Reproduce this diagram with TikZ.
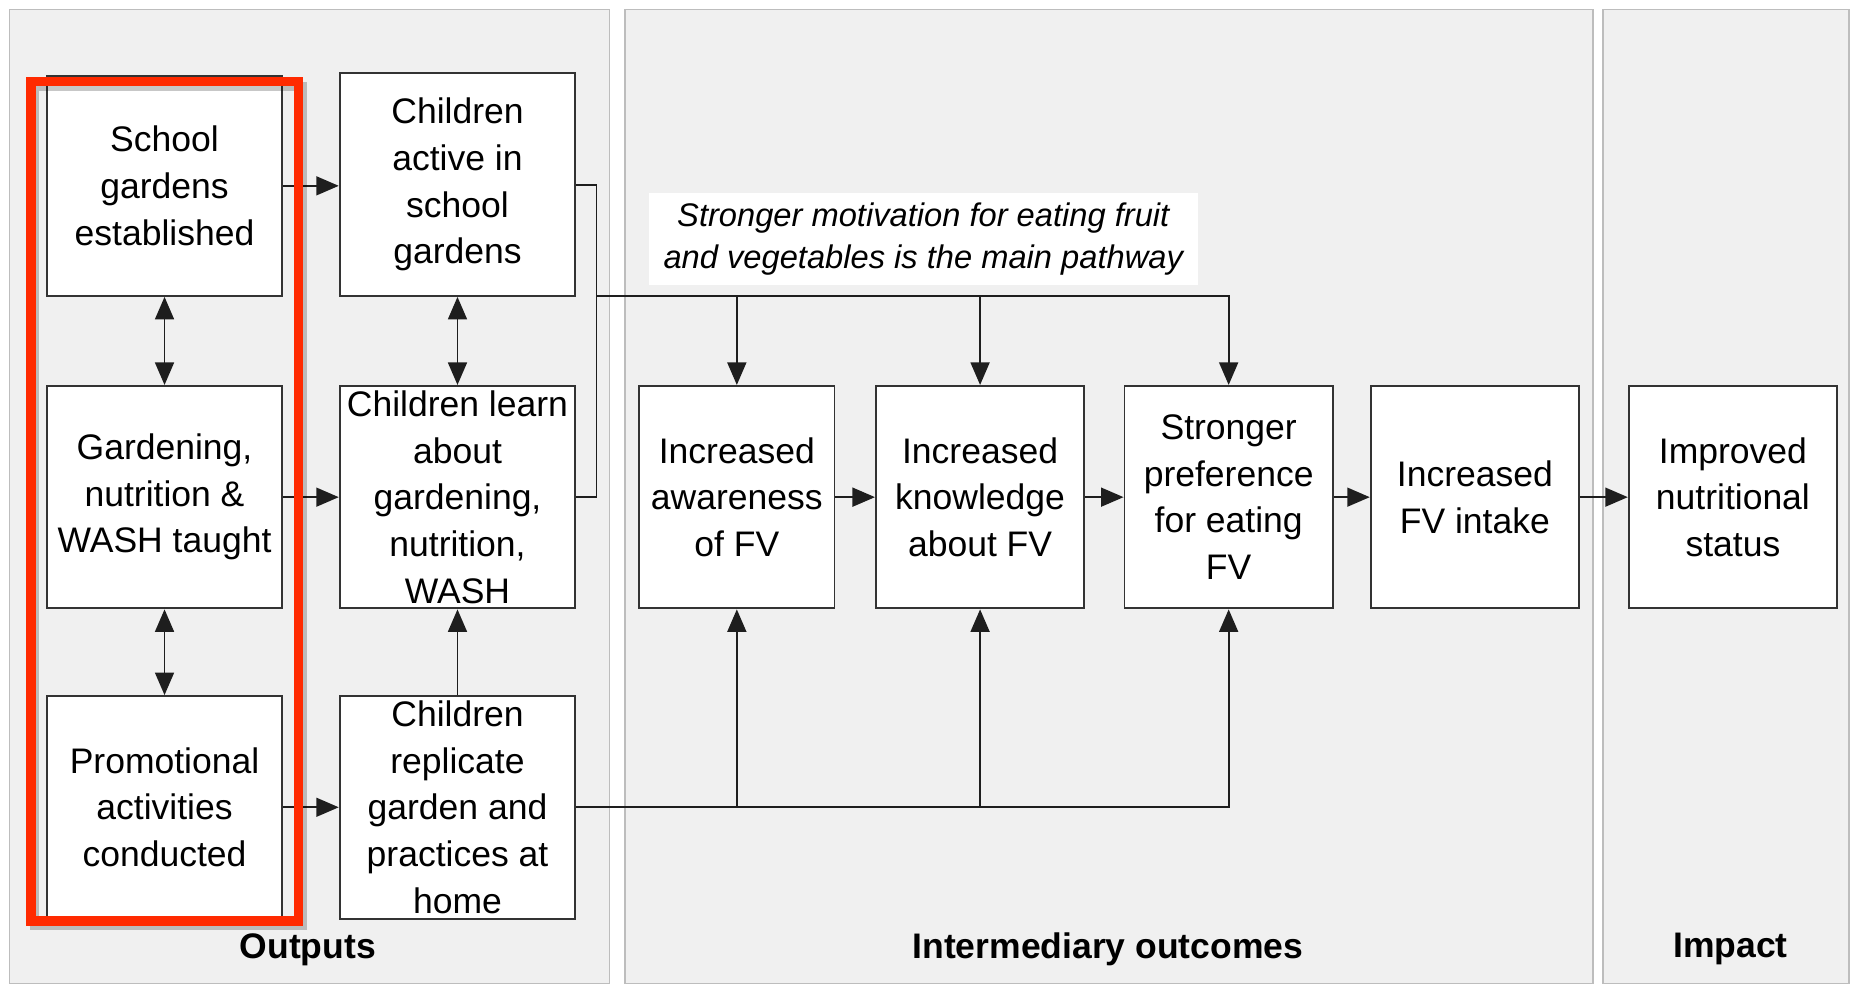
\documentclass[tikz,border=0pt]{standalone}
\usepackage{fontspec}
\setmainfont{Liberation Sans}
\usetikzlibrary{arrows.meta}
\definecolor{panelgray}{HTML}{F0F0F0}
\definecolor{panelborder}{HTML}{BDBDBD}
\definecolor{boxline}{HTML}{333333}
\definecolor{lineblack}{HTML}{1E1E1E}
\definecolor{redframe}{HTML}{FF2A00}
\newcommand\boxfont{\fontsize{15}{19.7}\selectfont}
\newcommand\labfont{\fontsize{15}{18}\selectfont\bfseries}
\newcommand\capfont{\fontsize{13.8}{17.5}\selectfont\itshape}
\begin{document}
\begin{tikzpicture}[x=0.5pt,y=-0.5pt,
  panel/.style={fill=panelgray,draw=panelborder,line width=0.7pt},
  box/.style={draw=boxline,fill=white,line width=0.8pt,inner sep=0pt,align=center,font=\boxfont,minimum height=94pt},
  abox/.style={box,minimum width=99pt},
  bbox/.style={box,minimum width=99.5pt},
  cbox/.style={box,minimum width=88pt},
  conn/.style={draw=lineblack,line width=0.75pt},
  arr/.style={conn,-{Triangle[length=9.5pt,width=8pt]}},
  darr/.style={conn,{Triangle[length=9.5pt,width=8pt]}-{Triangle[length=9.5pt,width=8pt]}},
  lab/.style={font=\labfont,inner sep=0pt}]
\useasboundingbox (0,0) rectangle (1568,832);
\fill[white] (0,0) rectangle (1568,832);
% panels
\draw[panel] (8,8) rectangle (515,831);
\draw[panel] (528,8) rectangle (1346,831);
\draw[panel] (1354,8) rectangle (1562,831);
% caption
\node[fill=white,minimum width=232pt,minimum height=39pt,inner sep=0pt,align=center,font=\capfont] (cap) at (780,202) {Stronger motivation for eating fruit\\and vegetables is the main pathway};
% boxes
\node[abox,minimum height=93pt] (a1) at (139,157) {School\\gardens\\established};
\node[abox] (a2) at (139,420) {Gardening,\\nutrition \&\\WASH taught};
\node[abox] (a3) at (139,682) {Promotional\\activities\\conducted};
\node[bbox] (b1) at (386.5,156) {Children\\active in\\school\\gardens};
\node[bbox] (b2) at (386.5,420) {Children learn\\about\\gardening,\\nutrition,\\WASH};
\node[bbox] (b3) at (386.5,682) {Children\\replicate\\garden and\\practices at\\home};
\node[box,minimum width=82.5pt] (c1) at (622.5,420) {Increased\\awareness\\of FV};
\node[cbox] (c2) at (828,420) {Increased\\knowledge\\about FV};
\node[cbox] (c3) at (1038,420) {Stronger\\preference\\for eating\\FV};
\node[cbox] (c4) at (1246,420) {Increased\\FV intake};
\node[cbox] (d) at (1464,420) {Improved\\nutritional\\status};
% connectors left
\draw[arr] (a1.east) -- (a1.east -| b1.west);
\draw[arr] (a2.east) -- (b2.west);
\draw[arr] (a3.east) -- (b3.west);
\draw[darr] (a1.south) -- (a2.north);
\draw[darr] (a2.south) -- (a3.north);
\draw[darr] (b1.south) -- (b2.north);
\draw[arr] (b3.north) -- (b2.south);
% bracket from b1/b2
\coordinate (j1) at (504,156);
\coordinate (jm) at (504,250);
\draw[conn] (b1.east) -- (j1) |- (b2.east);
\draw[arr] (jm) -| (c3.north);
\draw[arr] (jm -| c1.north) -- (c1.north);
\draw[arr] (jm -| c2.north) -- (c2.north);
% bottom line from b3
\draw[arr] (b3.east) -| (c3.south);
\draw[arr] (b3.east -| c1.south) -- (c1.south);
\draw[arr] (b3.east -| c2.south) -- (c2.south);
% chain
\draw[arr] (c1.east) -- (c2.west);
\draw[arr] (c2.east) -- (c3.west);
\draw[arr] (c3.east) -- (c4.west);
\draw[arr] (c4.east) -- (d.west);
% red frame with shadow
\draw[line width=4pt,black,opacity=0.22] (29,73) rectangle (255,782);
\draw[line width=4pt,redframe] (26,69) rectangle (252,778);
% labels
\node[lab] (l1) at (260,802) {Outputs};
\node[lab] (l2) at (936,802) {Intermediary outcomes};
\node[lab] (l3) at (1462,802) {Impact};
\end{tikzpicture}
\end{document}
